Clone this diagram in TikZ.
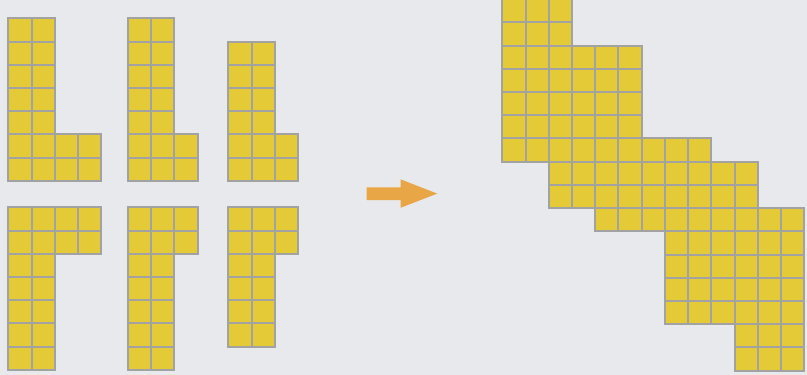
\documentclass[tikz,border=0pt]{standalone}
\usetikzlibrary{calc}
\definecolor{bgc}{HTML}{E8E9EC}
\definecolor{cellfill}{HTML}{E5CA37}
\definecolor{cellline}{HTML}{A2A2A2}
\definecolor{arrowc}{HTML}{E8A646}
\tikzset{
  cell/.style={fill=cellfill, draw=cellline, line width=2pt},
  bigarrow/.style={fill=arrowc, draw=none}
}
\newcommand{\blk}[6]{%
  \foreach \i in {#3,...,#4}{%
    \foreach \j in {#5,...,#6}{%
      \draw[cell] ({#1+\i*23.22},{#2+\j*23.22}) rectangle ++(23.22,23.22);
    }%
  }%
}
\begin{document}
\begin{tikzpicture}[x=1pt,y=-1pt]
\useasboundingbox (0,0) rectangle (807,375);
\fill[bgc] (0,0) rectangle (807,375);
% shape 1
\blk{8.3}{18.3}{0}{1}{0}{4}
\blk{8.3}{18.3}{0}{3}{5}{6}
% shape 2
\blk{128}{18.3}{0}{1}{0}{4}
\blk{128}{18.3}{0}{2}{5}{6}
% shape 3
\blk{228.3}{41.5}{0}{1}{0}{3}
\blk{228.3}{41.5}{0}{2}{4}{5}
% shape 4
\blk{8.3}{207.3}{0}{3}{0}{1}
\blk{8.3}{207.3}{0}{1}{2}{6}
% shape 5
\blk{128}{207.3}{0}{2}{0}{1}
\blk{128}{207.3}{0}{1}{2}{6}
% shape 6
\blk{228.3}{207.3}{0}{2}{0}{1}
\blk{228.3}{207.3}{0}{1}{2}{5}
% arrow
\fill[bigarrow] (366.7,187.3) -- (400.5,187.3) -- (400.5,179.3) -- (437.3,193.6)
  -- (400.5,207.8) -- (400.5,200) -- (366.7,200) -- cycle;
% big shape
\blk{502.3}{-0.9}{0}{2}{0}{1}
\blk{502.3}{-0.9}{0}{5}{2}{5}
\blk{502.3}{-0.9}{0}{8}{6}{6}
\blk{502.3}{-0.9}{2}{10}{7}{8}
\blk{502.3}{-0.9}{4}{12}{9}{9}
\blk{502.3}{-0.9}{7}{12}{10}{13}
\blk{502.3}{-0.9}{10}{12}{14}{15}
\end{tikzpicture}
\end{document}
